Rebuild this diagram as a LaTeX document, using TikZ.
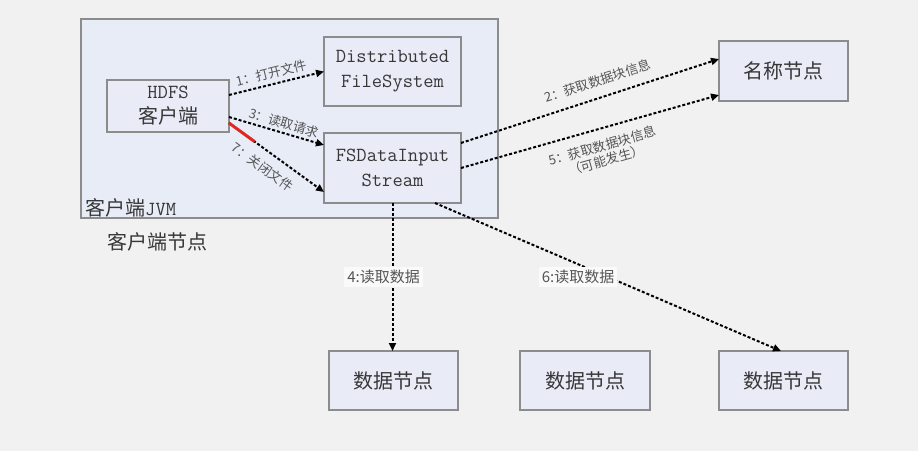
\documentclass[tikz,border=0pt]{standalone}
\usepackage{fontspec}
\newfontfamily\cjk{Noto Sans CJK SC}
\usetikzlibrary{arrows.meta,calc}
\definecolor{bg}{RGB}{241,241,241}
\definecolor{boxfill}{RGB}{233,235,247}
\definecolor{jvmfill}{RGB}{232,236,247}
\definecolor{boxline}{RGB}{140,140,140}
\definecolor{txt}{RGB}{55,55,55}
\definecolor{lbl}{RGB}{85,85,85}
\definecolor{redline}{RGB}{225,40,30}
\definecolor{lblbg}{RGB}{250,250,250}
\begin{document}
\begin{tikzpicture}[x=1pt,y=-1pt,
  box/.style={draw=boxline, line width=1.3pt, fill=boxfill, inner sep=0pt, outer sep=0pt,
    text=txt, font=\fontsize{20}{25}\selectfont\cjk, align=center},
  flow/.style={line width=2pt, dash pattern=on 3pt off 2pt, -{Triangle[length=8pt,width=7pt]}},
  lab/.style={text=lbl, font=\fontsize{13}{15}\selectfont\cjk, inner sep=1pt, align=center},
  biglab/.style={text=txt, font=\fontsize{20}{24}\selectfont\cjk, inner sep=0pt},
  readlab/.style={text=lbl, font=\fontsize{15}{18}\selectfont\cjk, fill=lblbg, inner sep=3pt},
]
\fill[bg] (0,0) rectangle (918,451);
\useasboundingbox (0,0) rectangle (918,451);

% client JVM
\node[box, fill=jvmfill, minimum width=417pt, minimum height=199pt] (jvm) at (289.5,118.5) {};
\node[biglab, anchor=west] (jvmlab) at (85,208) {客户端{\ttfamily JVM}};
\node[biglab] (nodelab) at (157,242) {客户端节点};

% boxes
\node[box, minimum width=122pt, minimum height=52pt] (hdfs) at (168,106) {{\ttfamily HDFS}\\客户端};
\node[box, minimum width=137pt, minimum height=69pt] (dfs) at (392.5,71.5) {{\ttfamily Distributed}\\{\ttfamily FileSystem}};
\node[box, minimum width=137pt, minimum height=70pt] (fsd) at (392.5,168) {{\ttfamily FSDataInput}\\{\ttfamily Stream}};
\node[box, minimum width=129pt, minimum height=60pt] (nn) at (783.5,71) {名称节点};
\node[box, minimum width=129pt, minimum height=59pt] (dn1) at (393.5,380.5) {数据节点};
\node[box, minimum width=130pt, minimum height=59pt] (dn2) at (585,380.5) {数据节点};
\node[box, minimum width=129pt, minimum height=59pt] (dn3) at (783.5,380.5) {数据节点};

% connectors
\draw[flow] ([yshift=11pt]hdfs.east) -- (dfs.west)
  node[lab, sloped, above=3pt, pos=0.47] (l1) {1：打开文件};
\draw[flow] ([yshift=-11pt]hdfs.east) -- ([yshift=23pt]fsd.west)
  node[lab, sloped, above=2pt, pos=0.55] (l3) {3：读取请求};
\coordinate (s7) at ([yshift=-17pt]hdfs.east);
\coordinate (e7) at ([yshift=-24pt]fsd.west);
\draw[flow] (s7) -- (e7)
  node[lab, sloped, below=8pt, pos=0.45] (l7) {7：关闭文件};
\draw[redline, line width=3pt] (s7) -- ($(s7)!0.27!(e7)$);

\draw[flow] ([yshift=25pt]fsd.east) -- ([yshift=12pt]nn.west)
  node[lab, sloped, above=9pt, pos=0.55] (l2) {2：获取数据块信息};
\draw[flow] (fsd.east) -- ([yshift=-24pt]nn.west)
  node[lab, sloped, below=9pt, pos=0.53] (l5) {5：获取数据块信息\\（可能发生）};

\draw[flow] (fsd.south) -- (fsd.south |- dn1.north);
\draw[flow] ([xshift=42.5pt]fsd.south) -- ([xshift=-2.5pt]dn3.north);
\node[readlab] (l4) at (383.5,277) {4:读取数据};
\node[readlab] (l6) at (578,277) {6:读取数据};
\end{tikzpicture}
\end{document}
